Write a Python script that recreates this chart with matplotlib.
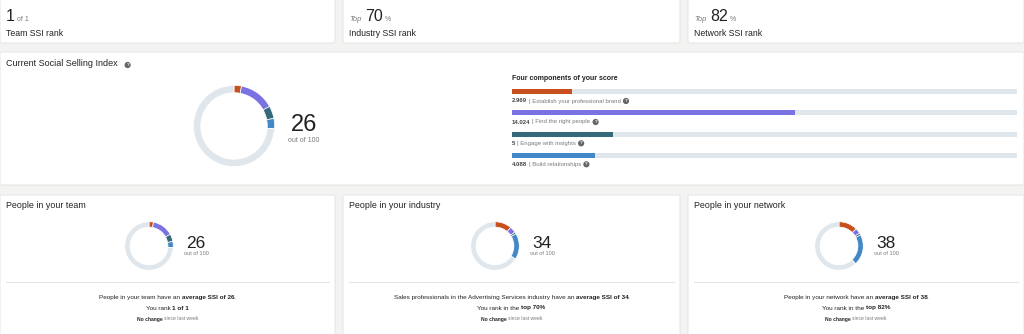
import matplotlib
matplotlib.use("Agg")
import matplotlib.pyplot as plt
from matplotlib.patches import FancyBboxPatch

plt.rcParams['font.family'] = ['Liberation Sans', 'DejaVu Sans']

W, H = 1024, 334

# data
rank_prefix = ["", "Top", "Top"]
rank_values = ["1", "70", "82"]
rank_suffix = ["of 1", "%", "%"]
rank_labels = ["Team SSI rank", "Industry SSI rank", "Network SSI rank"]

components = ["Establish your professional brand", "Find the right people",
              "Engage with insights", "Build relationships"]
my_scores = [2.969, 14.024, 5, 4.088]
my_score_labels = ["2.969", "14.024", "5", "4.088"]
my_ssi = 26
component_max = 25

group_titles = ["People in your team", "People in your industry", "People in your network"]
group_scores = [[2.969, 14.024, 5, 4.088],
                [11.2, 4.1, 1.3, 17.4],
                [12.5, 3.6, 1.4, 20.5]]
group_ssi = [26, 34, 38]
group_text = ["People in your team have an",
              "Sales professionals in the Advertising Services industry have an",
              "People in your network have an"]
group_rank_pre = ["You rank", "You rank in the", "You rank in the"]
group_rank = ["1 of 1", "top 70%", "top 82%"]

colors = ['#c8501e', '#7a72e3', '#366a7b', '#4387c6']
track = '#dfe6ec'
dark = '#222222'
gray = '#7a7a7a'

fig = plt.figure(figsize=(W / 100, H / 100), dpi=100)
fig.patch.set_facecolor('#f3f3f2')
bg = fig.add_axes([0, 0, 1, 1])
bg.set_xlim(0, W)
bg.set_ylim(H, 0)
bg.axis('off')
renderer = fig.canvas.get_renderer()


def card(x0, y0, x1, y1):
    bg.add_patch(FancyBboxPatch((x0, y0), x1 - x0, y1 - y0,
                                boxstyle="round,pad=0,rounding_size=2",
                                facecolor='white', edgecolor='#e2e2e2', lw=0.6))


def run(x, y, pieces, ha='left', va='baseline'):
    # pieces: (text, gap after in px, text props)
    arts, widths = [], []
    for s, gap, kw in pieces:
        t = bg.text(0, y, s, va=va, **kw)
        widths.append(t.get_window_extent(renderer=renderer).width + gap)
        arts.append(t)
    start = x - sum(widths) / 2 if ha == 'center' else x
    for t, w in zip(arts, widths):
        t.set_x(start)
        start += w
    return start


def qmark(x, y):
    bg.text(x, y, "?", fontsize=3.2, color='white', fontweight='bold',
            ha='center', va='center',
            bbox=dict(boxstyle='circle,pad=0.25', fc='#666666', ec='none'))


def donut(cx, cy, r, values, width):
    ax = fig.add_axes([(cx - r) / W, (H - cy - r) / H, 2 * r / W, 2 * r / H])
    ax.pie(list(values) + [100 - sum(values)], colors=colors + [track],
           startangle=90, counterclock=False,
           wedgeprops=dict(width=width, edgecolor='white', linewidth=0.5))
    ax.set_xlim(-1.01, 1.01)
    ax.set_ylim(-1.01, 1.01)


# top rank cards
top_x = [(0, 335), (343, 680), (688, 1024)]
for i, (x0, x1) in enumerate(top_x):
    card(x0, -3, x1, 43)
    pieces = []
    if rank_prefix[i]:
        pieces.append((rank_prefix[i], 3.5, dict(fontsize=5.5, color=gray, style='italic')))
    pieces.append((rank_values[i], 2.5, dict(fontsize=11.5, color=dark)))
    pieces.append((rank_suffix[i], 0, dict(fontsize=5, color=gray)))
    run(x0 + 6, 21, pieces)
    bg.text(x0 + 6, 36, rank_labels[i], fontsize=6.3, color=dark, va='baseline')

# current SSI card
card(0, 52, 1024, 185)
end = run(6, 66, [("Current Social Selling Index", 0,
                   dict(fontsize=6.5, color=dark))])
qmark(end + 10, 65)
donut(234, 126, 41, my_scores, 0.18)
bg.text(304, 125, str(my_ssi), fontsize=17, color=dark, ha='center', va='center')
bg.text(304, 140, "out of 100", fontsize=5, color=gray, ha='center', va='center')

bg.text(512, 80, "Four components of your score", fontsize=5, color=dark,
        fontweight='bold', va='baseline')
bar_y = [91.7, 112.7, 134, 155]
label_y = [101, 122, 143.3, 164.3]
bar_ax = fig.add_axes([512 / W, 0, 505 / W, 1])
bar_ax.set_xlim(0, component_max)
bar_ax.set_ylim(H, 0)
bar_ax.axis('off')
bar_ax.barh(bar_y, [component_max] * 4, height=5, color=track)
bar_ax.barh(bar_y, my_scores, height=5, color=colors)
for yl, lab, name in zip(label_y, my_score_labels, components):
    end = run(512, yl + 1.5, [(lab, 2, dict(fontsize=4.3, color='#444444', fontweight='bold')),
                              ("| " + name, 3, dict(fontsize=4.3, color=gray))])
    qmark(end + 2, yl)

# group cards
bottom_x = [(0, 335), (343, 680), (688, 1024)]
donut_cx = [149, 495, 839]
for i, (x0, x1) in enumerate(bottom_x):
    card(x0, 195, x1, 337)
    bg.text(x0 + 6, 208.5, group_titles[i], fontsize=6.4, color=dark, va='baseline')
    donut(donut_cx[i], 246, 24.5, group_scores[i], 0.22)
    tx = donut_cx[i] + 47
    bg.text(tx, 244, str(group_ssi[i]), fontsize=12.5, color=dark, ha='center', va='center')
    bg.text(tx, 253.5, "out of 100", fontsize=4, color=gray, ha='center', va='center')
    bg.plot([x0 + 6, x1 - 6], [282, 282], color='#e4e4e4', lw=0.7)
    cx = (x0 + x1) / 2
    fs = 4.6
    run(cx, 299, [(group_text[i], 1.8, dict(fontsize=fs, color=dark)),
                  ("average SSI of " + str(group_ssi[i]), -0.8,
                   dict(fontsize=fs, color=dark, fontweight='bold')),
                  (".", 0, dict(fontsize=fs, color=dark))], ha='center')
    run(cx, 309.5, [(group_rank_pre[i], 1.8, dict(fontsize=fs, color=dark)),
                    (group_rank[i], 0, dict(fontsize=fs, color=dark, fontweight='bold'))],
        ha='center')
    run(cx, 320.5, [("No change", 1.6, dict(fontsize=3.6, color=dark, fontweight='bold')),
                    ("since last week", 0, dict(fontsize=3.6, color=gray))],
        ha='center')

fig.savefig("out.png", dpi=100, facecolor=fig.get_facecolor())
